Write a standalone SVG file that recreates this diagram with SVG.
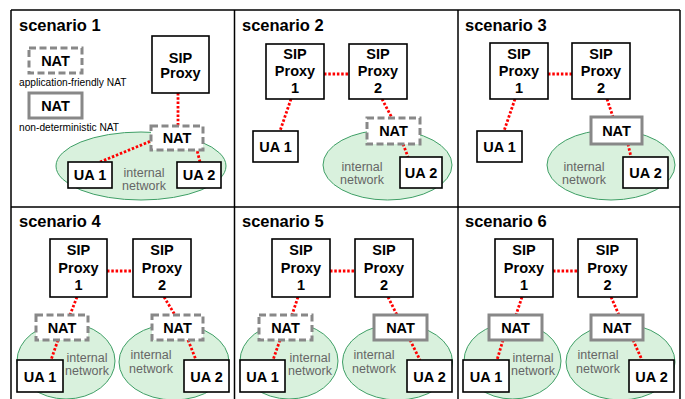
<svg xmlns="http://www.w3.org/2000/svg" width="685" height="399" viewBox="0 0 685 399">
<style>
.frame{fill:none;stroke:#000;stroke-width:1.5}
.title{font-family:"Liberation Sans",Arial,sans-serif;font-weight:bold;font-size:16.5px;fill:#000}
.box{fill:#fff;stroke:#000;stroke-width:1.6}
.natd{fill:#fff;stroke:#888;stroke-width:3;stroke-dasharray:7 3.5}
.nats{fill:#fff;stroke:#888;stroke-width:3}
.lbl{font-family:"Liberation Sans",Arial,sans-serif;font-weight:bold;font-size:14.5px;fill:#000;text-anchor:middle}
.net{fill:#d9f1dd;stroke:#3f9f66;stroke-width:1}
.nett{font-family:"Liberation Sans",Arial,sans-serif;font-size:12.5px;fill:#666;text-anchor:middle}
.small{font-family:"Liberation Sans",Arial,sans-serif;font-size:10.2px;fill:#000}
.link{fill:none;stroke:#f00;stroke-width:2.8;stroke-dasharray:2.5 1.8}
</style>
<rect x="0" y="0" width="685" height="399" fill="#fff"/>
<g id="frame" class="frame">
<path d="M11,10 H680 M11,10 V399 M680,10 V399 M234.5,10 V399 M458,10 V399 M11,207 H680"/>
</g>
<g id="titles">
<text class="title" x="19" y="31">scenario 1</text>
<text class="title" x="242" y="31">scenario 2</text>
<text class="title" x="465" y="31">scenario 3</text>
<text class="title" x="19" y="227">scenario 4</text>
<text class="title" x="242" y="227">scenario 5</text>
<text class="title" x="465" y="227">scenario 6</text>
</g>
<g id="networks">
<g id="net1"><ellipse class="net" cx="141" cy="166" rx="85" ry="34"/><text class="nett" x="144" y="177">internal</text><text class="nett" x="144" y="190">network</text></g>
<g id="net2"><ellipse class="net" cx="387.5" cy="165" rx="64.5" ry="35"/><text class="nett" x="362" y="171">internal</text><text class="nett" x="362" y="184">network</text></g>
<g id="net3"><ellipse class="net" cx="611" cy="165" rx="64" ry="35"/><text class="nett" x="584" y="171">internal</text><text class="nett" x="584" y="184">network</text></g>
<g id="net4a"><ellipse class="net" cx="66" cy="361" rx="49" ry="38"/><text class="nett" x="87" y="362">internal</text><text class="nett" x="87" y="375">network</text></g>
<g id="net4b"><ellipse class="net" cx="174" cy="362" rx="55" ry="38"/><text class="nett" x="151" y="359">internal</text><text class="nett" x="151" y="373">network</text></g>
<g id="net5a"><ellipse class="net" cx="289" cy="361" rx="49" ry="38"/><text class="nett" x="310" y="362">internal</text><text class="nett" x="310" y="375">network</text></g>
<g id="net5b"><ellipse class="net" cx="397.5" cy="362" rx="55" ry="38"/><text class="nett" x="374" y="359">internal</text><text class="nett" x="374" y="373">network</text></g>
<g id="net6a"><ellipse class="net" cx="512.5" cy="361" rx="48.5" ry="38"/><text class="nett" x="533" y="362">internal</text><text class="nett" x="533" y="375">network</text></g>
<g id="net6b"><ellipse class="net" cx="620.5" cy="362" rx="54.5" ry="38"/><text class="nett" x="598" y="359">internal</text><text class="nett" x="598" y="373">network</text></g>
</g>
<g id="connectors" class="link">
<path d="M178,93 V126"/>
<path d="M100,162 L151,141"/>
<path d="M200,162 L197,150"/>
<path d="M324,74 H349"/>
<path d="M291,99 L280,131"/>
<path d="M382,99 L392,118"/>
<path d="M403,144 L408,157"/>
<path d="M548,74 H572"/>
<path d="M515,99 L504,131"/>
<path d="M607,99 L613,117"/>
<path d="M628,144 L631,157"/>
<path d="M107,271 H133"/>
<path d="M77,297 L70,315"/>
<path d="M164,297 L175,315"/>
<path d="M58,340 L51,360"/>
<path d="M188,340 L196,360"/>
<path d="M330,271 H355"/>
<path d="M298,297 L292,315"/>
<path d="M388,297 L397,315"/>
<path d="M280,340 L273,360"/>
<path d="M410,340 L420,360"/>
<path d="M553,271 H578"/>
<path d="M522,297 L516,315"/>
<path d="M611,297 L619,315"/>
<path d="M503,340 L497,360"/>
<path d="M633,340 L642,360"/>
</g>
<g id="legend">
<g id="legend-af"><rect class="natd" x="29" y="48" width="53" height="25"/><text class="lbl" x="55.5" y="66">NAT</text><text class="small" x="19" y="86">application-friendly NAT</text></g>
<g id="legend-nd"><rect class="nats" x="29" y="93" width="53" height="25"/><text class="lbl" x="55.5" y="111">NAT</text><text class="small" x="19" y="131">non-deterministic NAT</text></g>
</g>
<g id="s1-proxy"><rect class="box" x="152" y="36" width="57" height="57"/><text class="lbl" x="180.5" y="63">SIP</text><text class="lbl" x="180.5" y="78">Proxy</text></g>
<g id="s1-nat"><rect class="natd" x="151" y="126" width="52" height="24"/><text class="lbl" x="177" y="143">NAT</text></g>
<g id="s1-ua1"><rect class="box" x="68" y="162" width="44" height="26"/><text class="lbl" x="90" y="180">UA 1</text></g>
<g id="s1-ua2"><rect class="box" x="177" y="162" width="44" height="26"/><text class="lbl" x="199" y="180">UA 2</text></g>

<g id="s2-proxy1"><rect class="box" x="266" y="44" width="58" height="55"/><text class="lbl" x="295" y="59">SIP</text><text class="lbl" x="295" y="76">Proxy</text><text class="lbl" x="295" y="93">1</text></g>
<g id="s2-proxy2"><rect class="box" x="349" y="44" width="58" height="55"/><text class="lbl" x="378" y="59">SIP</text><text class="lbl" x="378" y="76">Proxy</text><text class="lbl" x="378" y="93">2</text></g>
<g id="s2-ua1"><rect class="box" x="253" y="131" width="45" height="31"/><text class="lbl" x="275.5" y="152">UA 1</text></g>
<g id="s2-nat"><rect class="natd" x="367" y="118" width="53" height="26"/><text class="lbl" x="393.5" y="136">NAT</text></g>
<g id="s2-ua2"><rect class="box" x="400" y="157" width="42" height="31"/><text class="lbl" x="421" y="178">UA 2</text></g>

<g id="s3-proxy1"><rect class="box" x="490" y="43" width="58" height="56"/><text class="lbl" x="519" y="59">SIP</text><text class="lbl" x="519" y="76">Proxy</text><text class="lbl" x="519" y="93">1</text></g>
<g id="s3-proxy2"><rect class="box" x="572" y="43" width="58" height="56"/><text class="lbl" x="601" y="59">SIP</text><text class="lbl" x="601" y="76">Proxy</text><text class="lbl" x="601" y="93">2</text></g>
<g id="s3-ua1"><rect class="box" x="477" y="131" width="45" height="31"/><text class="lbl" x="499.5" y="152">UA 1</text></g>
<g id="s3-nat"><rect class="nats" x="591" y="117" width="51" height="27"/><text class="lbl" x="616.5" y="136">NAT</text></g>
<g id="s3-ua2"><rect class="box" x="623" y="157" width="45" height="31"/><text class="lbl" x="645.5" y="178">UA 2</text></g>

<g id="s4-proxy1"><rect class="box" x="50" y="239" width="57" height="58"/><text class="lbl" x="78.5" y="255">SIP</text><text class="lbl" x="78.5" y="273">Proxy</text><text class="lbl" x="78.5" y="290">1</text></g>
<g id="s4-proxy2"><rect class="box" x="133" y="239" width="58" height="58"/><text class="lbl" x="162" y="255">SIP</text><text class="lbl" x="162" y="273">Proxy</text><text class="lbl" x="162" y="290">2</text></g>
<g id="s4-nat1"><rect class="natd" x="36" y="315" width="52" height="25"/><text class="lbl" x="62" y="332.5">NAT</text></g>
<g id="s4-nat2"><rect class="natd" x="152" y="315" width="51" height="25"/><text class="lbl" x="177.5" y="332.5">NAT</text></g>
<g id="s4-ua1"><rect class="box" x="17" y="360" width="46" height="32"/><text class="lbl" x="40" y="381.5">UA 1</text></g>
<g id="s4-ua2"><rect class="box" x="184" y="360" width="45" height="32"/><text class="lbl" x="206.5" y="381.5">UA 2</text></g>

<g id="s5-proxy1"><rect class="box" x="272" y="239" width="58" height="58"/><text class="lbl" x="301" y="255">SIP</text><text class="lbl" x="301" y="273">Proxy</text><text class="lbl" x="301" y="290">1</text></g>
<g id="s5-proxy2"><rect class="box" x="355" y="239" width="58" height="58"/><text class="lbl" x="384" y="255">SIP</text><text class="lbl" x="384" y="273">Proxy</text><text class="lbl" x="384" y="290">2</text></g>
<g id="s5-nat1"><rect class="natd" x="259" y="315" width="53" height="25"/><text class="lbl" x="285.5" y="332.5">NAT</text></g>
<g id="s5-nat2"><rect class="nats" x="374" y="315" width="53" height="25"/><text class="lbl" x="400.5" y="332.5">NAT</text></g>
<g id="s5-ua1"><rect class="box" x="240" y="360" width="45" height="32"/><text class="lbl" x="262.5" y="381.5">UA 1</text></g>
<g id="s5-ua2"><rect class="box" x="407" y="360" width="45" height="32"/><text class="lbl" x="429.5" y="381.5">UA 2</text></g>

<g id="s6-proxy1"><rect class="box" x="495" y="239" width="58" height="58"/><text class="lbl" x="524" y="255">SIP</text><text class="lbl" x="524" y="273">Proxy</text><text class="lbl" x="524" y="290">1</text></g>
<g id="s6-proxy2"><rect class="box" x="578" y="239" width="59" height="58"/><text class="lbl" x="607.5" y="255">SIP</text><text class="lbl" x="607.5" y="273">Proxy</text><text class="lbl" x="607.5" y="290">2</text></g>
<g id="s6-nat1"><rect class="nats" x="489" y="315" width="53" height="25"/><text class="lbl" x="515.5" y="332.5">NAT</text></g>
<g id="s6-nat2"><rect class="nats" x="591" y="315" width="52" height="25"/><text class="lbl" x="617" y="332.5">NAT</text></g>
<g id="s6-ua1"><rect class="box" x="463" y="360" width="46" height="32"/><text class="lbl" x="486" y="381.5">UA 1</text></g>
<g id="s6-ua2"><rect class="box" x="629" y="360" width="45" height="32"/><text class="lbl" x="651.5" y="381.5">UA 2</text></g>
</svg>
